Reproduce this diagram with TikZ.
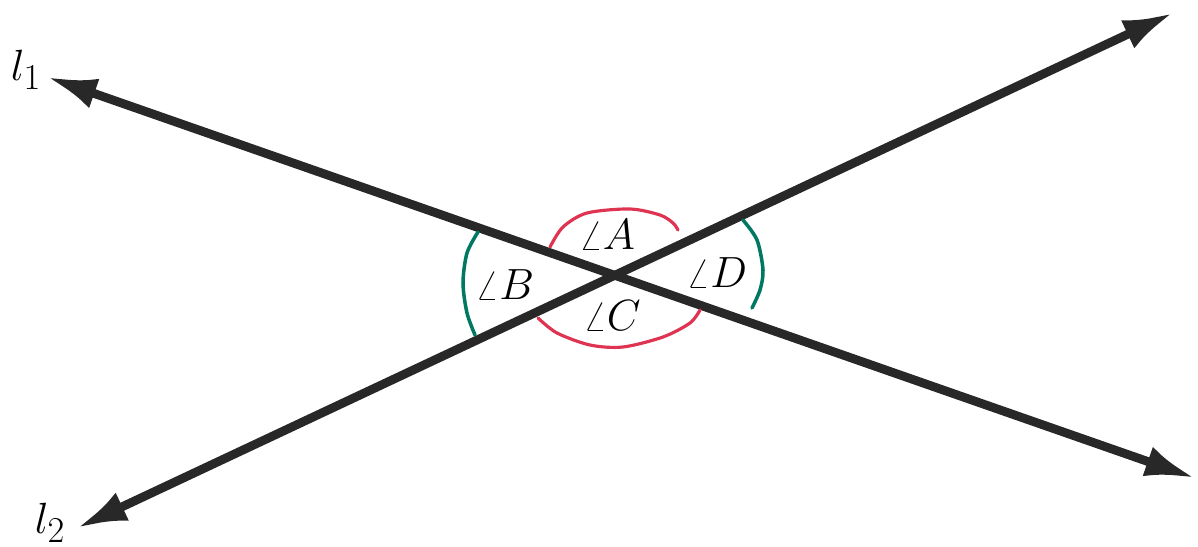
\documentclass[tikz,border=0pt]{standalone}
\usepackage{xcolor}
\usepackage{tikz}
\usetikzlibrary{arrows.meta}
\definecolor{penred}{RGB}{222,52,82}
\definecolor{pengreen}{RGB}{0,120,98}
\definecolor{penblack}{RGB}{40,40,40}
\tikzset{
  ln/.style    ={{Latex[length=1cm,width=0.62cm]}-{Latex[length=1cm,width=0.62cm]}, line width=5pt, draw=penblack},
  redarc/.style={draw=penred, line width=1.8pt, line cap=round},
  grnarc/.style={draw=pengreen, line width=2pt, line cap=round},
  ang/.style   ={font=\fontsize{25}{28}\selectfont, inner sep=0pt},
  lbl/.style   ={font=\fontsize{28}{32}\selectfont, inner sep=0pt},
}
\begin{document}
\begin{tikzpicture}[x=0.02cm, y=-0.02cm]
  \useasboundingbox (0,0) rectangle (1198,547);

  % lines
  \coordinate (l1a) at (47,77);
  \coordinate (l1b) at (1195,478);
  \coordinate (l2a) at (77,528);
  \coordinate (l2b) at (1173,13);
  \draw[ln] (l1a) -- (l1b);
  \draw[ln] (l2a) -- (l2b);

  \node[lbl] (n1) at (26,70) {$l_1$};
  \node[lbl] (n2) at (50,523) {$l_2$};

  % angle marks
  \draw[redarc] plot[smooth] coordinates {(550,247) (563,227) (587,213) (630,209) (660,215) (673,223) (678,230)};
  \draw[redarc] plot[smooth] coordinates {(538,318) (557,333) (590,345) (623,347) (663,337) (690,323) (700,310)};
  \draw[grnarc] plot[smooth] coordinates {(478,232) (467,253) (463,283) (467,313) (475,335)};
  \draw[grnarc] plot[smooth] coordinates {(743,220) (757,240) (763,270) (760,290) (752,308)};

  \node[ang] (aA) at (607,235) {$\angle A$};
  \node[ang] (aB) at (505,285) {$\angle B$};
  \node[ang] (aC) at (612,316) {$\angle C$};
  \node[ang] (aD) at (717,273) {$\angle D$};
\end{tikzpicture}
\end{document}
